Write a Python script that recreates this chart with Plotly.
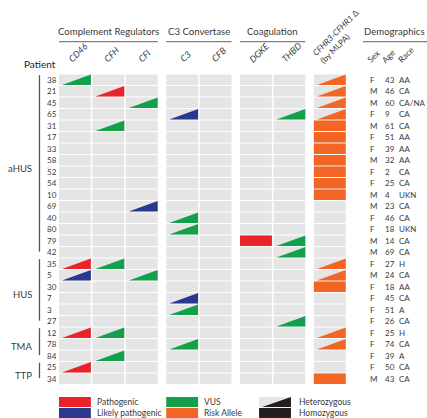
import plotly.graph_objects as go

# ---------------- data ----------------
patients = ["38", "21", "45", "65", "31", "17", "33", "58", "52", "54", "10", "69", "40", "80",
            "79", "42", "35", "5", "30", "7", "3", "27", "12", "78", "84", "25", "34"]
group_names = ["aHUS", "HUS", "TMA", "TTP"]
group_sizes = [16, 6, 3, 2]

genes = ["CD46", "CFH", "CFI", "C3", "CFB", "DGKE", "THBD", "CFHR"]
gene_group = [0, 0, 0, 1, 1, 2, 2, 3]
gene_titles = ["Complement Regulators", "C3 Convertase", "Coagulation"]

sex = ["F", "M", "M", "F", "M", "F", "F", "M", "F", "F", "M", "M", "F", "F",
       "M", "M", "F", "M", "F", "F", "F", "F", "F", "F", "F", "F", "M"]
age = [43, 46, 60, 9, 61, 51, 39, 32, 2, 25, 4, 23, 46, 18,
       14, 69, 27, 24, 18, 45, 51, 26, 25, 74, 39, 50, 43]
race = ["AA", "CA", "CA/NA", "CA", "CA", "AA", "AA", "AA", "CA", "CA", "UKN", "CA", "CA", "UKN",
        "CA", "CA", "H", "CA", "AA", "CA", "A", "CA", "H", "CA", "A", "CA", "CA"]

# (patient, gene, class, zygosity)
variants = [
    ("38", "CD46", "VUS", "het"), ("38", "CFHR", "Risk Allele", "het"),
    ("21", "CFH", "Pathogenic", "het"), ("21", "CFHR", "Risk Allele", "het"),
    ("45", "CFI", "VUS", "het"), ("45", "CFHR", "Risk Allele", "het"),
    ("65", "C3", "Likely pathogenic", "het"), ("65", "THBD", "VUS", "het"), ("65", "CFHR", "Risk Allele", "het"),
    ("31", "CFH", "VUS", "het"), ("31", "CFHR", "Risk Allele", "hom"),
    ("17", "CFHR", "Risk Allele", "hom"),
    ("33", "CFHR", "Risk Allele", "hom"),
    ("58", "CFHR", "Risk Allele", "hom"),
    ("52", "CFHR", "Risk Allele", "hom"),
    ("54", "CFHR", "Risk Allele", "hom"),
    ("10", "CFHR", "Risk Allele", "hom"),
    ("69", "CFI", "Likely pathogenic", "het"),
    ("40", "C3", "VUS", "het"),
    ("80", "C3", "VUS", "het"),
    ("79", "DGKE", "Pathogenic", "hom"), ("79", "THBD", "VUS", "het"),
    ("42", "THBD", "VUS", "het"),
    ("35", "CD46", "Pathogenic", "het"), ("35", "CFH", "VUS", "het"), ("35", "CFHR", "Risk Allele", "het"),
    ("5", "CD46", "Likely pathogenic", "het"), ("5", "CFI", "VUS", "het"), ("5", "CFHR", "Risk Allele", "het"),
    ("30", "CFHR", "Risk Allele", "hom"),
    ("7", "C3", "Likely pathogenic", "het"),
    ("3", "C3", "VUS", "het"),
    ("27", "THBD", "VUS", "het"),
    ("12", "CD46", "Pathogenic", "het"), ("12", "CFH", "VUS", "het"), ("12", "CFHR", "Risk Allele", "het"),
    ("78", "C3", "VUS", "het"), ("78", "CFHR", "Risk Allele", "het"),
    ("84", "CFH", "VUS", "het"),
    ("25", "CD46", "Pathogenic", "het"),
    ("34", "CFHR", "Risk Allele", "hom"),
]

classes = ["Pathogenic", "Likely pathogenic", "VUS", "Risk Allele"]
class_colors = {"Pathogenic": "#e8232a", "Likely pathogenic": "#2a3990",
                "VUS": "#13a04b", "Risk Allele": "#f26524"}

# ---------------- layout constants ----------------
CW = 0.955       # cell width (column units)
GAP = 0.21       # extra gap between gene groups
T0, T1 = 0.05, 0.95   # cell top / bottom inside a row
INSET = 0.09
GRAY = "#e5e5e5"
TXT = "#3a3a3a"
FONT = "Lato"

col_left = [i + GAP * g for i, g in enumerate(gene_group)]
gene_idx = {g: i for i, g in enumerate(genes)}
row_idx = {p: i for i, p in enumerate(patients)}

fig = go.Figure()


def rect_path(x0, x1, y0, y1):
    return [x0, x1, x1, x0, x0, None], [y0, y0, y1, y1, y0, None]


def tri_path(x0, x1, y0, y1):
    # y0 top, y1 bottom; right angle at bottom-right
    return [x0 + INSET, x1, x1, x0 + INSET, None], [y1, y1, y0, y1, None]


def add_poly(xs, ys, color):
    fig.add_trace(go.Scatter(x=xs, y=ys, mode="lines", line=dict(width=0, color=color),
                             fill="toself", fillcolor=color, hoverinfo="skip", showlegend=False))


# gray background cells
gx, gy = [], []
for r in range(len(patients)):
    for c in range(len(genes)):
        xs, ys = rect_path(col_left[c], col_left[c] + CW, r + T0, r + T1)
        gx += xs
        gy += ys
add_poly(gx, gy, GRAY)

# variant marks
for cls in classes:
    vx, vy = [], []
    for p, g, k, z in variants:
        if k != cls:
            continue
        r = row_idx[p]
        c = gene_idx[g]
        x0, x1 = col_left[c], col_left[c] + CW
        if z == "het":
            xs, ys = tri_path(x0, x1, r + T0, r + T1)
        else:
            xs, ys = rect_path(x0, x1, r + T0, r + T1)
        vx += xs
        vy += ys
    add_poly(vx, vy, class_colors[cls])

ann = []
shapes = []

# patient ids and demographics
for r, p in enumerate(patients):
    ann.append(dict(x=-0.41, y=r + 0.5, text=p, xanchor="left", yanchor="middle",
                    showarrow=False, font=dict(size=8, color=TXT)))
    ann.append(dict(x=9.24, y=r + 0.5, text=sex[r], xanchor="left", yanchor="middle",
                    showarrow=False, font=dict(size=8, color=TXT)))
    ann.append(dict(x=9.69, y=r + 0.5, text=str(age[r]), xanchor="left", yanchor="middle",
                    showarrow=False, font=dict(size=8, color=TXT)))
    ann.append(dict(x=10.12, y=r + 0.5, text=race[r], xanchor="left", yanchor="middle",
                    showarrow=False, font=dict(size=8, color=TXT)))

ann.append(dict(x=-0.57, y=-0.87, text="Patient", xanchor="center", yanchor="middle",
                showarrow=False, font=dict(size=10, color="#222")))

# diagnosis groups
start = 0
for name, n in zip(group_names, group_sizes):
    end = start + n
    ann.append(dict(x=-0.76, y=(start + end) / 2 + 0.2, text=name, xanchor="right", yanchor="middle",
                    showarrow=False, font=dict(size=9.5, color=TXT)))
    shapes.append(dict(type="line", xref="x", yref="y", x0=-0.584, x1=-0.584,
                       y0=start + 0.1, y1=end - 0.55, line=dict(color="#555", width=1.3)))
    start = end

# gene column labels
for c, g in enumerate(genes[:-1]):
    ann.append(dict(x=col_left[c] + CW / 2 + 0.09, y=-0.6, text="<i>%s</i>" % g, textangle=-45,
                    xanchor="center", yanchor="bottom", showarrow=False,
                    font=dict(size=9, color=TXT)))
ann.append(dict(x=8.4, y=-0.5, text="<i>CFHR3-CFHR1</i> Δ<br>(by MLPA)", textangle=-45, align="left",
                xanchor="center", yanchor="bottom", showarrow=False, font=dict(size=8.3, color=TXT)))

for x, t in [(9.1, "Sex"), (9.53, "Age"), (10.0, "Race")]:
    ann.append(dict(x=x, y=-0.55, text=t, textangle=-45, xanchor="left", yanchor="bottom",
                    showarrow=False, font=dict(size=8.5, color=TXT)))

# gene group titles and underlines
for gi, title in enumerate(gene_titles):
    cols = [c for c in range(len(genes)) if gene_group[c] == gi]
    x0, x1 = col_left[cols[0]], col_left[cols[-1]] + CW
    ann.append(dict(x=(x0 + x1) / 2, y=-3.68, text=title, xanchor="center", yanchor="middle",
                    showarrow=False, font=dict(size=9.6, color=TXT)))
    shapes.append(dict(type="line", xref="x", yref="y", x0=x0, x1=x1, y0=-2.81, y1=-2.81,
                       line=dict(color="#808080", width=1.2)))
ann.append(dict(x=10.03, y=-3.68, text="Demographics", xanchor="center", yanchor="middle",
                showarrow=False, font=dict(size=9.6, color=TXT)))
shapes.append(dict(type="line", xref="x", yref="y", x0=9.1, x1=11.1, y0=-2.81, y1=-2.81,
                   line=dict(color="#808080", width=1.2)))

# legend
LY = [28.09, 29.04]
LH = 0.87
leg_cols = [0.0, col_left[3], 5.99]
leg_items = [[("Pathogenic", class_colors["Pathogenic"]), ("Likely pathogenic", class_colors["Likely pathogenic"])],
             [("VUS", class_colors["VUS"]), ("Risk Allele", class_colors["Risk Allele"])]]
for ci, items in enumerate(leg_items):
    for ri, (lab, colr) in enumerate(items):
        xs, ys = rect_path(leg_cols[ci], leg_cols[ci] + CW, LY[ri], LY[ri] + LH)
        add_poly(xs, ys, colr)
        ann.append(dict(x=leg_cols[ci] + CW + 0.13, y=LY[ri] + LH / 2, text=lab, xanchor="left",
                        yanchor="middle", showarrow=False, font=dict(size=8.5, color=TXT)))
BLACK = "#231f20"
xs, ys = rect_path(leg_cols[2], leg_cols[2] + CW, LY[0], LY[0] + LH)
add_poly(xs, ys, GRAY)
xs, ys = tri_path(leg_cols[2], leg_cols[2] + CW, LY[0], LY[0] + LH)
add_poly(xs, ys, BLACK)
xs, ys = rect_path(leg_cols[2], leg_cols[2] + CW, LY[1], LY[1] + LH)
add_poly(xs, ys, BLACK)
for ri, lab in enumerate(["Heterozygous", "Homozygous"]):
    ann.append(dict(x=leg_cols[2] + CW + 0.18, y=LY[ri] + LH / 2, text=lab, xanchor="left",
                    yanchor="middle", showarrow=False, font=dict(size=8.5, color=TXT)))

fig.update_layout(
    width=427, height=418, autosize=False,
    margin=dict(l=0, r=0, t=0, b=0),
    paper_bgcolor="white", plot_bgcolor="white",
    font=dict(family=FONT, color=TXT),
    xaxis=dict(range=[-1.766, 11.018], visible=False, fixedrange=True),
    yaxis=dict(range=[29.913, -6.435], visible=False, fixedrange=True),
    annotations=ann, shapes=shapes, showlegend=False,
    hovermode=False,
)

# remove the default page margin so the figure fills the window exactly
fig.write_html("out.html",
               config={"displayModeBar": False, "staticPlot": True},
               post_script="document.body.style.margin='0';document.body.style.overflow='hidden';")
